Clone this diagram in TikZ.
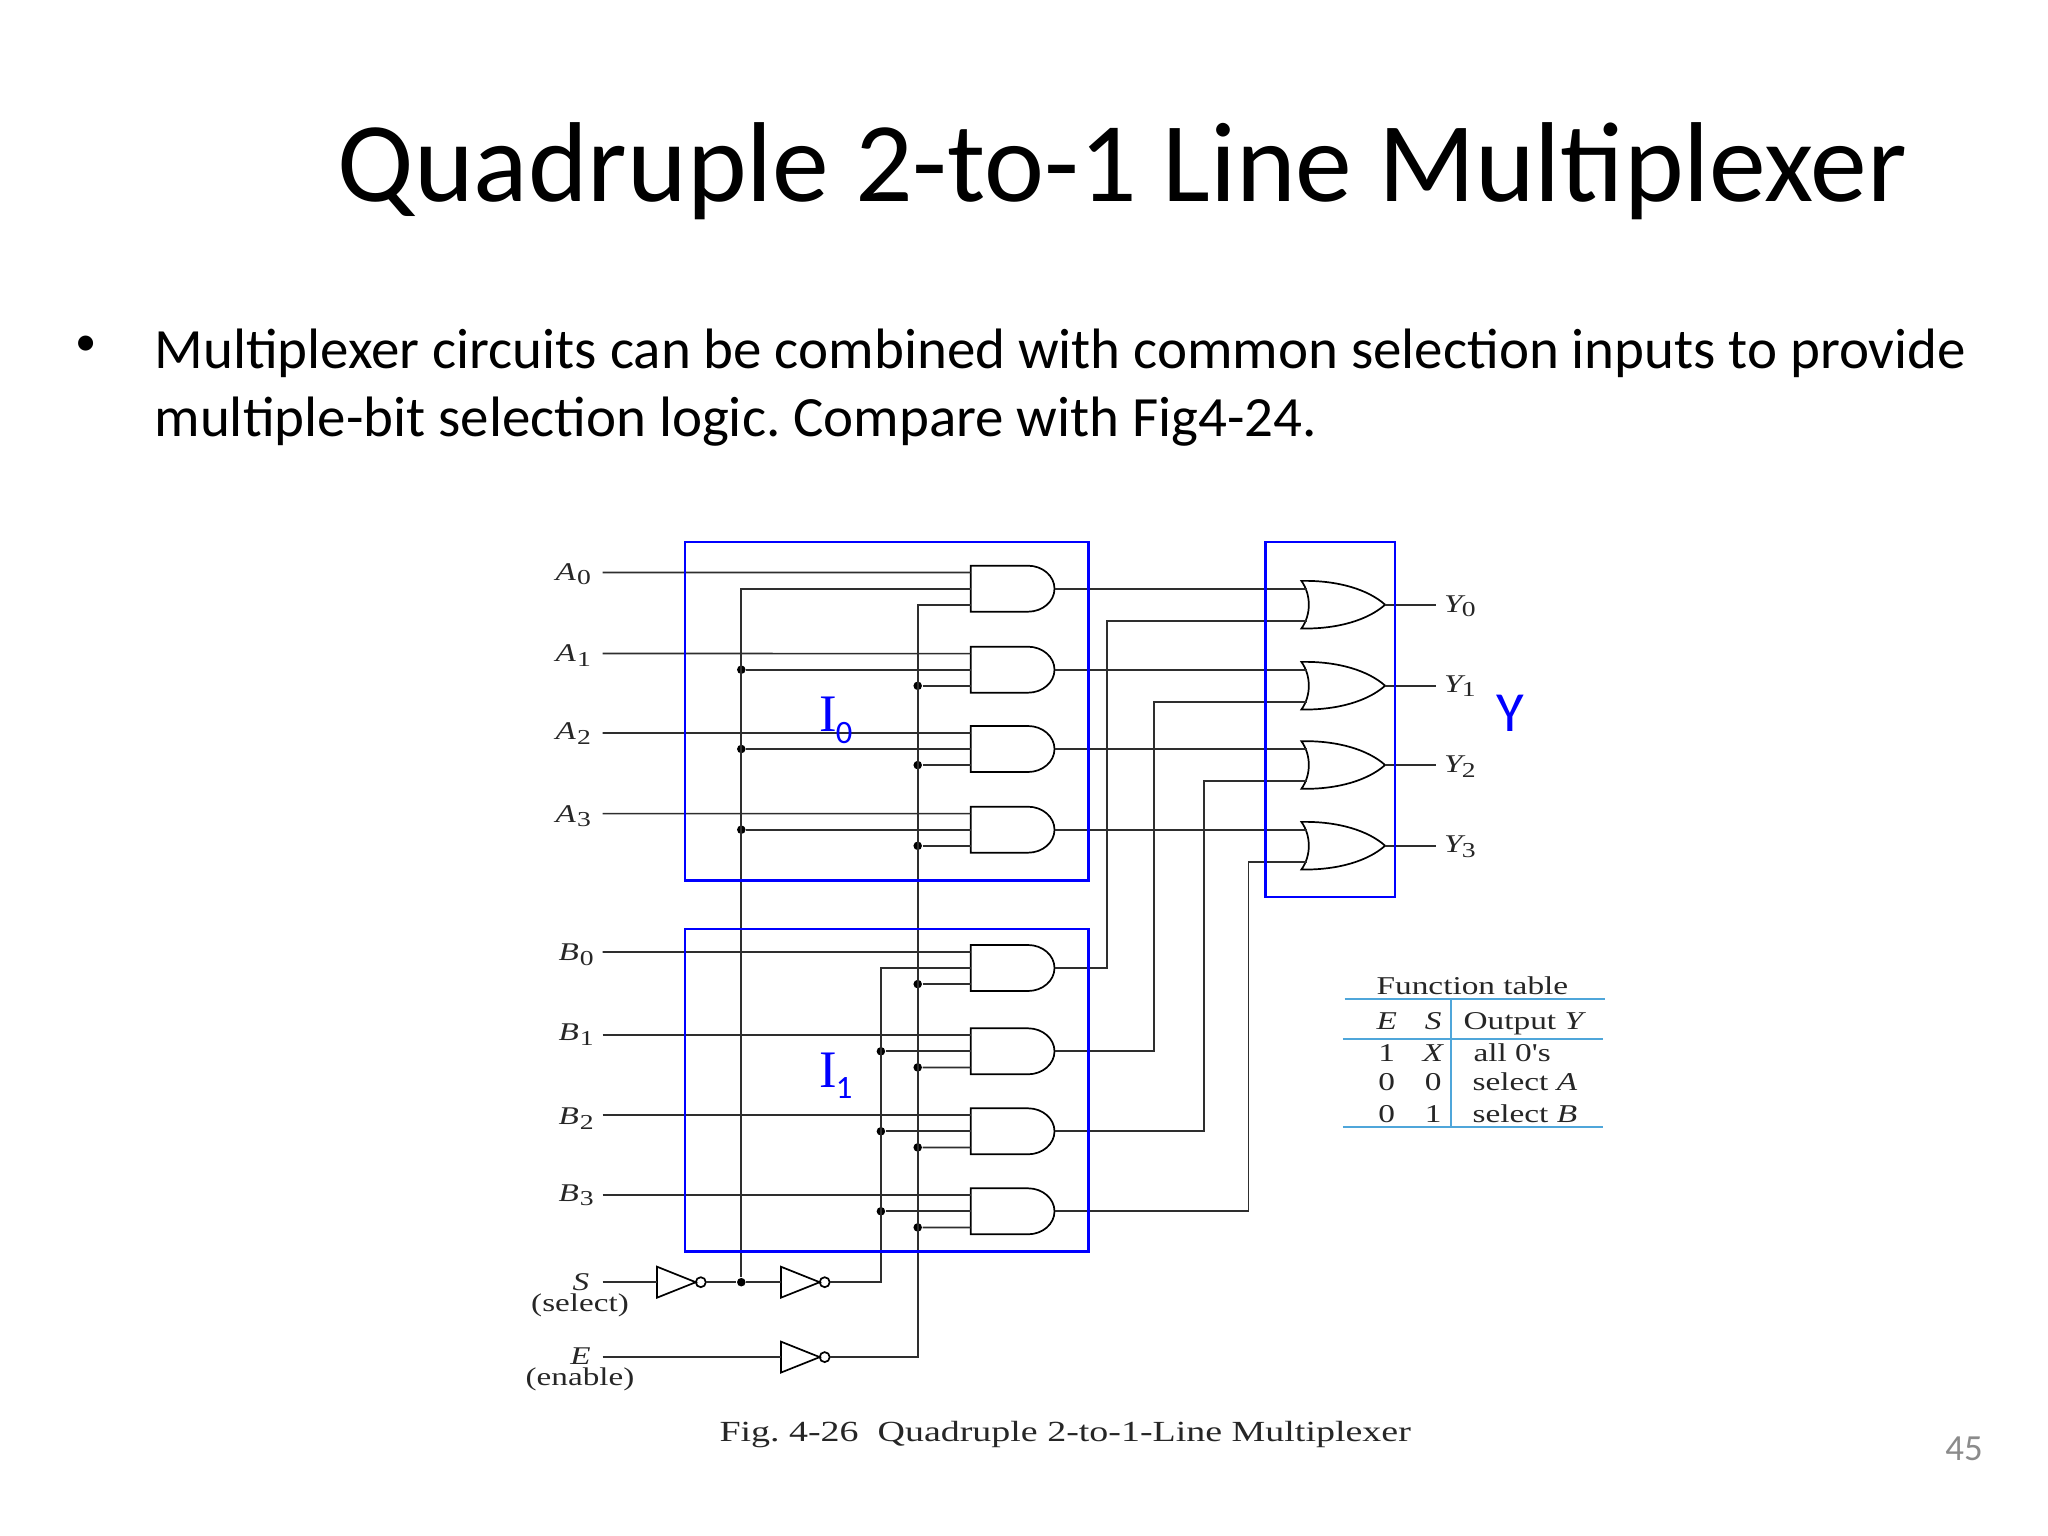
\documentclass[tikz,border=0pt]{standalone}
\usepackage{fontspec}
\setmainfont{Carlito}
\newfontfamily\figfont[FakeStretch=1.3]{Liberation Serif}
\newfontfamily\bluefont{Liberation Serif}
\newcommand{\figsub}[2]{\textit{#1}\kern0.4bp\raisebox{-1.6bp}{\fontsize{7.5}{8}\selectfont #2}}
\newcommand{\bluesub}[2]{{\bluefont\fontsize{18.6}{24}\selectfont #1}\kern-0.4bp\raisebox{-4.2bp}{\fontsize{11.5}{13}\selectfont #2}}
\definecolor{tableblue}{HTML}{4FA6DA}
\definecolor{pagegray}{HTML}{8B8B8B}
\definecolor{wiregray}{HTML}{2E2E2E}
\tikzset{
  wire/.style={line width=0.6bp,draw=wiregray},
  gateline/.style={line width=0.6bp,draw=black},
  andshape/.pic={
    \draw [gateline] (15.4,-23) -- (-41.9,-23) -- (-41.9,23) -- (15.4,23) .. controls (30,23) and (41.9,12.7) .. (41.9,0) .. controls (41.9,-12.7) and (30,-23) .. (15.4,-23) -- cycle;
    \coordinate (-in1) at (-41.9,-16.1);
    \coordinate (-in2) at (-41.9,0);
    \coordinate (-in3) at (-41.9,16.1);
    \coordinate (-out) at (41.9,0);
  },
  orshape/.pic={
    \draw [gateline] (-41.9,-23.8) .. controls (-5,-24.5) and (25,-15) .. (41.8,0) .. controls (25,15) and (-5,24.5) .. (-41.9,23.8) .. controls (-32,10) and (-32,-10) .. (-41.9,-23.8) -- cycle;
    \coordinate (-in1) at (-36.5,-16);
    \coordinate (-in2) at (-36.5,16);
    \coordinate (-out) at (41.8,0);
  },
  invshape/.pic={
    \draw [gateline] (-19.4,-15.5) -- (19.4,0) -- (-19.4,15.5) -- cycle;
    \draw [gateline] (24.4,0) circle (5);
    \coordinate (-in) at (-19.4,0);
    \coordinate (-out) at (29.4,0);
  },
  joint/.style={circle,fill=black,inner sep=0pt,minimum size=3bp},
  groupbox/.style={line width=0.9bp,draw=blue},
  tablerule/.style={line width=0.7bp,draw=tableblue},
  figtext/.style={font=\figfont\fontsize{9}{11}\selectfont,inner sep=0pt,text=black!85},
  tabtext/.style={font=\figfont\fontsize{9.05}{11}\selectfont,inner sep=0pt,text=black!85},
  captext/.style={font=\figfont\fontsize{10.3}{12}\selectfont,inner sep=0pt,text=black!85},
  bluetext/.style={font=\fontsize{20}{24}\selectfont,inner sep=0pt,text=blue},
}
\begin{document}
\frenchspacing
\begin{tikzpicture}[x=0.3515625bp,y=-0.3515625bp]
  \useasboundingbox (0,0) rectangle (2048,1536);

  % Slide text
  \node [font=\fontsize{40.1}{48}\selectfont,inner sep=0pt,anchor=base west] (title) at (337.0,201.5) {Quadruple 2-to-1 Line Multiplexer};%
  \node [font=\fontsize{15}{18}\selectfont,inner sep=0pt,anchor=center] (bullet) at (86,346) {\textbullet};%
  \node [font=\fontsize{20.1}{24}\selectfont,inner sep=0pt,anchor=base west] (bodyone) at (154,368.3) {Multiplexer circuits can be combined with common selection inputs to provide};%
  \node [font=\fontsize{20.1}{24}\selectfont,inner sep=0pt,anchor=base west] (bodytwo) at (154,436.2) {multiple-bit selection logic. Compare with Fig4-24.};%
  \node [font=\fontsize{13}{16}\selectfont,inner sep=0pt,text=pagegray] (pagenum) at (1964,1449) {45};%

  % Marking AND gates of A
  \pic (andA0) at (1012.6,588.7) {andshape};%
  \pic (andA1) at (1012.6,669.7) {andshape};%
  \pic (andA2) at (1012.6,749.0) {andshape};%
  \pic (andA3) at (1012.6,829.7) {andshape};%

  % Marking AND gates of B
  \pic (andB0) at (1012.6,968.0) {andshape};%
  \pic (andB1) at (1012.6,1051.3) {andshape};%
  \pic (andB2) at (1012.6,1131.3) {andshape};%
  \pic (andB3) at (1012.6,1211.3) {andshape};%

  % Marking OR gates
  \pic (orY0) at (1343.3,604.7) {orshape};%
  \pic (orY1) at (1343.3,685.7) {orshape};%
  \pic (orY2) at (1343.3,765.0) {orshape};%
  \pic (orY3) at (1343.3,845.7) {orshape};%

  % Marking inverters
  \pic (invS) at (676.4,1282.2) {invshape};%
  \pic (invT) at (800.3,1282.2) {invshape};%
  \pic (invE) at (800.3,1357.1) {invshape};%

  % Marking free wire ends
  \coordinate (inA0) at (602.5,572.6);%
  \coordinate (inA1) at (602.5,653.6);%
  \coordinate (inA2) at (602.5,732.9);%
  \coordinate (inA3) at (602.5,813.6);%
  \coordinate (inB0) at (602.5,951.9);%
  \coordinate (inB1) at (602.5,1035.2);%
  \coordinate (inB2) at (602.5,1115.2);%
  \coordinate (inB3) at (602.5,1195.2);%
  \coordinate (inS) at (602.5,1282.2);%
  \coordinate (inE) at (602.5,1357.1);%
  \coordinate (outY0) at (1436.1,604.7);%
  \coordinate (outY1) at (1436.1,685.7);%
  \coordinate (outY2) at (1436.1,765.0);%
  \coordinate (outY3) at (1436.1,845.7);%

  % Marking rail corners
  \coordinate (turnT) at (880.9,1282.2);%
  \coordinate (turnE) at (917.7,1357.1);%
  \coordinate (backB0) at (1106.9,968.0);%
  \coordinate (backB1) at (1154.0,1051.3);%
  \coordinate (backB2) at (1204.0,1131.3);%
  \coordinate (backB3) at (1248.4,1211.3);%

  % Marking joints on the select rail
  \node [joint] (jointS) at (741.3,1282.2) {};%
  \node [joint] (jointA1) at (741.3,669.7) {};%
  \node [joint] (jointA2) at (741.3,749.0) {};%
  \node [joint] (jointA3) at (741.3,829.7) {};%

  % Marking joints on the inverted select rail
  \node [joint] (jointB1) at (880.9,1051.3) {};%
  \node [joint] (jointB2) at (880.9,1131.3) {};%
  \node [joint] (jointB3) at (880.9,1211.3) {};%

  % Marking joints on the enable rail
  \node [joint] (enA1) at (917.7,685.8) {};%
  \node [joint] (enA2) at (917.7,765.1) {};%
  \node [joint] (enA3) at (917.7,845.8) {};%
  \node [joint] (enB0) at (917.7,984.1) {};%
  \node [joint] (enB1) at (917.7,1067.4) {};%
  \node [joint] (enB2) at (917.7,1147.4) {};%
  \node [joint] (enB3) at (917.7,1227.4) {};%

  % Drawing data inputs
  \draw [wire] (inA0) -- (andA0-in1);%
  \draw [wire] (inA1) -- (andA1-in1);%
  \draw [wire] (inA2) -- (andA2-in1);%
  \draw [wire] (inA3) -- (andA3-in1);%
  \draw [wire] (inB0) -- (andB0-in1);%
  \draw [wire] (inB1) -- (andB1-in1);%
  \draw [wire] (inB2) -- (andB2-in1);%
  \draw [wire] (inB3) -- (andB3-in1);%

  % Drawing select rail
  \draw [wire] (inS) -- (invS-in);%
  \draw [wire] (invS-out) -- (jointS) -- (invT-in);%
  \draw [wire] (jointS) |- (andA0-in2);%
  \draw [wire] (jointA1) -- (andA1-in2);%
  \draw [wire] (jointA2) -- (andA2-in2);%
  \draw [wire] (jointA3) -- (andA3-in2);%

  % Drawing inverted select rail
  \draw [wire] (invT-out) -- (turnT) |- (andB0-in2);%
  \draw [wire] (jointB1) -- (andB1-in2);%
  \draw [wire] (jointB2) -- (andB2-in2);%
  \draw [wire] (jointB3) -- (andB3-in2);%

  % Drawing enable rail
  \draw [wire] (inE) -- (invE-in);%
  \draw [wire] (invE-out) -- (turnE) |- (andA0-in3);%
  \draw [wire] (enA1) -- (andA1-in3);%
  \draw [wire] (enA2) -- (andA2-in3);%
  \draw [wire] (enA3) -- (andA3-in3);%
  \draw [wire] (enB0) -- (andB0-in3);%
  \draw [wire] (enB1) -- (andB1-in3);%
  \draw [wire] (enB2) -- (andB2-in3);%
  \draw [wire] (enB3) -- (andB3-in3);%

  % Drawing outputs of A gates
  \draw [wire] (andA0-out) -- (orY0-in1);%
  \draw [wire] (andA1-out) -- (orY1-in1);%
  \draw [wire] (andA2-out) -- (orY2-in1);%
  \draw [wire] (andA3-out) -- (orY3-in1);%

  % Drawing outputs of B gates
  \draw [wire] (andB0-out) -- (backB0) |- (orY0-in2);%
  \draw [wire] (andB1-out) -- (backB1) |- (orY1-in2);%
  \draw [wire] (andB2-out) -- (backB2) |- (orY2-in2);%
  \draw [wire] (andB3-out) -- (backB3) |- (orY3-in2);%

  % Drawing outputs of OR gates
  \draw [wire] (orY0-out) -- (outY0);%
  \draw [wire] (orY1-out) -- (outY1);%
  \draw [wire] (orY2-out) -- (outY2);%
  \draw [wire] (orY3-out) -- (outY3);%

  % Marking input and output names
  \node [figtext,anchor=base west] (nameA0) at (555.0,580.0) {\figsub{A}{0}};%
  \node [figtext,anchor=base west] (nameA1) at (555.0,661.5) {\figsub{A}{1}};%
  \node [figtext,anchor=base west] (nameA2) at (555.0,739.5) {\figsub{A}{2}};%
  \node [figtext,anchor=base west] (nameA3) at (555.0,822.3) {\figsub{A}{3}};%
  \node [figtext,anchor=base west] (nameB0) at (558.0,960.5) {\figsub{B}{0}};%
  \node [figtext,anchor=base west] (nameB1) at (558.0,1040.5) {\figsub{B}{1}};%
  \node [figtext,anchor=base west] (nameB2) at (558.0,1124.8) {\figsub{B}{2}};%
  \node [figtext,anchor=base west] (nameB3) at (558.0,1201.4) {\figsub{B}{3}};%
  \node [figtext,anchor=base west] (nameY0) at (1443.5,612.0) {\figsub{Y\kern-0.6bp}{0}};%
  \node [figtext,anchor=base west] (nameY1) at (1443.5,692.0) {\figsub{Y\kern-0.6bp}{1}};%
  \node [figtext,anchor=base west] (nameY2) at (1443.5,772.5) {\figsub{Y\kern-0.6bp}{2}};%
  \node [figtext,anchor=base west] (nameY3) at (1443.5,852.5) {\figsub{Y\kern-0.6bp}{3}};%
  \node [figtext,anchor=base] (nameS) at (581.0,1290.0) {\textit{S}};%
  \node [figtext,anchor=base] (nameSel) at (580.0,1311.5) {(select)};%
  \node [figtext,anchor=base] (nameE) at (580.4,1364.5) {\textit{E}};%
  \node [figtext,anchor=base] (nameEn) at (580.0,1385.5) {(enable)};%
  \node [captext,anchor=base west] (caption) at (719.0,1441.0) {Fig. 4-26\ \ Quadruple 2-to-1-Line Multiplexer};%

  % Drawing function table
  \node [tabtext,anchor=base west] (tabTitle) at (1376.0,994.9) {Function table};%
  \coordinate (ruleTopL) at (1344.5,999.3);%
  \coordinate (ruleTopR) at (1604.5,999.3);%
  \coordinate (ruleMidL) at (1342.8,1039.0);%
  \coordinate (ruleMidR) at (1603.0,1039.0);%
  \coordinate (ruleBotL) at (1342.8,1126.7);%
  \coordinate (ruleBotR) at (1603.0,1126.7);%
  \coordinate (ruleVtop) at (1450.5,999.3);%
  \coordinate (ruleVbot) at (1450.5,1126.7);%
  \draw [tablerule] (ruleTopL) -- (ruleTopR);%
  \draw [tablerule] (ruleMidL) -- (ruleMidR);%
  \draw [tablerule] (ruleBotL) -- (ruleBotR);%
  \draw [tablerule] (ruleVtop) -- (ruleVbot);%
  \node [tabtext,anchor=base] (headE) at (1386.8,1029.5) {\textit{E}};%
  \node [tabtext,anchor=base] (headS) at (1433.3,1029.5) {\textit{S}};%
  \node [tabtext,anchor=base west] (headOut) at (1463.0,1029.0) {Output \textit{Y}};%
  \node [tabtext,anchor=base] (rowE1) at (1386.8,1061.3) {1};%
  \node [tabtext,anchor=base] (rowS1) at (1433.3,1061.3) {\textit{X}};%
  \node [tabtext,anchor=base west] (rowO1) at (1473.0,1061.3) {all 0's};%
  \node [tabtext,anchor=base] (rowE2) at (1386.8,1090.0) {0};%
  \node [tabtext,anchor=base] (rowS2) at (1433.3,1090.0) {0};%
  \node [tabtext,anchor=base west] (rowO2) at (1472.0,1090.0) {select \textit{A}};%
  \node [tabtext,anchor=base] (rowE3) at (1386.8,1122.0) {0};%
  \node [tabtext,anchor=base] (rowS3) at (1433.3,1122.0) {1};%
  \node [tabtext,anchor=base west] (rowO3) at (1472.0,1122.0) {select \textit{B}};%

  % Drawing blue groups
  \draw [groupbox] (684.8,542.0) rectangle (1088.5,880.7);%
  \draw [groupbox] (684.8,929.0) rectangle (1088.5,1251.6);%
  \draw [groupbox] (1265.6,542.0) rectangle (1395.1,897.0);%
  \node [bluetext,anchor=base west] (groupI) at (819.0,731.7) {\bluesub{I}{0}};%
  \node [bluetext,anchor=base west] (groupJ) at (819.0,1087.0) {\bluesub{I}{1}};%
  \node [bluetext,anchor=base] (groupY) at (1510.0,731.0) {Y};%
\end{tikzpicture}
\end{document}
